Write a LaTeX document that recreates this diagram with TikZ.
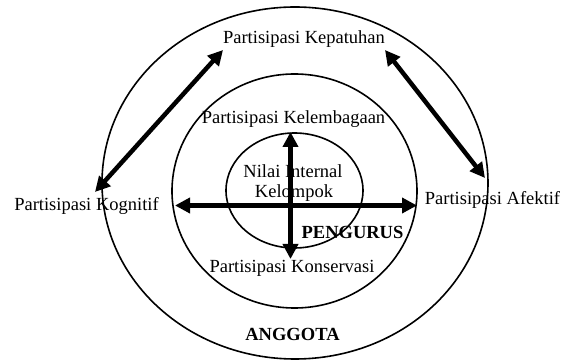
\documentclass[tikz,border=0pt]{standalone}
\usepackage{fontspec}
\setmainfont{Liberation Serif}
\usetikzlibrary{arrows.meta,shapes.geometric}
\begin{document}
\begin{tikzpicture}[x=1pt,y=-1pt,
  ring/.style={draw, ellipse, line width=1.6pt, inner sep=0pt},
  lbl/.style={inner sep=0pt, anchor=base, font=\fontsize{18.5}{21}\selectfont},
  blbl/.style={lbl, font=\fontsize{18.5}{21}\selectfont\bfseries},
  bigarrow/.style={line width=4.5pt, {Triangle[length=15pt,width=15pt]}-{Triangle[length=15pt,width=15pt]}}]
\path[use as bounding box] (0,0) rectangle (566,363);
% rings
\node[ring, minimum width=386pt, minimum height=352pt] (outer) at (295,183) {};
\node[ring, minimum width=245pt, minimum height=234pt] (middle) at (294.5,191) {};
\node[ring, minimum width=137pt, minimum height=115pt] (inner) at (294.5,190.5) {};
% labels
\node[lbl] (kep) at (304,44) {Partisipasi Kepatuhan};
\node[lbl] (kel) at (293.5,124) {Partisipasi Kelembagaan};
\node[lbl] (nil1) at (293,178) {Nilai Internal};
\node[lbl] (nil2) at (294,198) {Kelompok};
\node[blbl] (peng) at (352.5,239) {PENGURUS};
\node[lbl] (kon) at (292,273) {Partisipasi Konservasi};
\node[blbl] (ang) at (292.5,341) {ANGGOTA};
\node[lbl] (kog) at (86.5,211) {Partisipasi Kognitif};
\node[lbl] (afe) at (492.5,205) {Partisipasi Afektif};
% arrow end points
\coordinate (kepL) at (223,50);
\coordinate (kepR) at (385,50);
\coordinate (kogT) at (95,192);
\coordinate (afeT) at (485,178);
\coordinate (hL) at (175,205.5);
\coordinate (hR) at (417,205.5);
\coordinate (vT) at (290.5,132);
\coordinate (vB) at (290.5,259);
% arrows
\draw[bigarrow] (kepL) -- (kogT);
\draw[bigarrow] (kepR) -- (afeT);
\draw[bigarrow] (hL) -- (hR);
\draw[bigarrow] (vT) -- (vB);
\end{tikzpicture}
\end{document}
